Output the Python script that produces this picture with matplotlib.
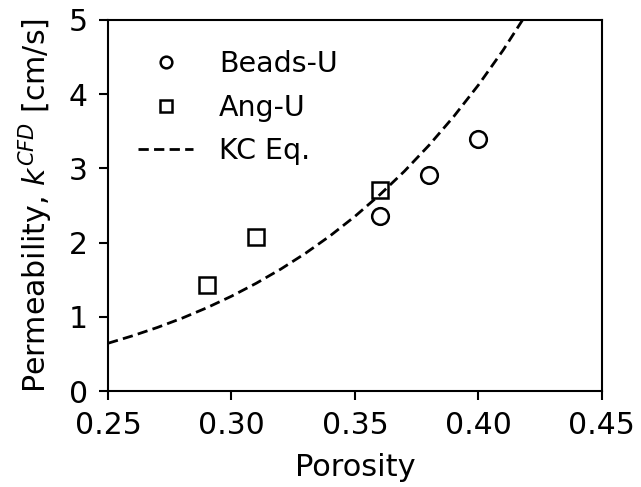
import matplotlib
matplotlib.use('Agg')
import matplotlib.pyplot as plt

# measured points
beads_por = [0.36, 0.38, 0.40]
beads_k = [2.36, 2.91, 3.40]
ang_por = [0.29, 0.31, 0.36]
ang_k = [1.43, 2.08, 2.71]

# KC equation curve
kc_por = [0.25, 0.26, 0.27, 0.28, 0.29, 0.30, 0.31, 0.32, 0.33,
          0.34, 0.35, 0.36, 0.37, 0.38, 0.39, 0.40, 0.41, 0.42]
kc_k = [0.644, 0.745, 0.857, 0.982, 1.122, 1.278, 1.452, 1.644, 1.857,
        2.093, 2.354, 2.643, 2.961, 3.312, 3.699, 4.124, 4.593, 5.110]

fig = plt.figure(figsize=(6.41, 4.87), dpi=100)
ax = fig.add_axes([0.1685, 0.197, 0.7705, 0.762])

ax.plot(beads_por, beads_k, 'o', mfc='none', mec='k', ms=12, mew=1.8,
        label='Beads-U')
ax.plot(ang_por, ang_k, 's', mfc='none', mec='k', ms=12, mew=1.8,
        label='Ang-U')
ax.plot(kc_por, kc_k, '--', color='k', lw=2.0, dashes=(3.7, 1.9),
        label='KC Eq.')

ax.set_xlim(0.25, 0.45)
ax.set_ylim(0, 5)
ax.set_xticks([0.25, 0.30, 0.35, 0.40, 0.45])
ax.set_xticklabels(['0.25', '0.30', '0.35', '0.40', '0.45'])
ax.set_yticks([0, 1, 2, 3, 4, 5])

ax.set_xlabel('Porosity', fontsize=22, labelpad=9)
ax.set_ylabel('Permeability, $k^{CFD}$ [cm/s]', fontsize=21.6, labelpad=10)
ax.tick_params(labelsize=21.5, length=6.5, width=1.5, pad=8)
for s in ax.spines.values():
    s.set_linewidth(1.5)

ax.legend(loc='upper left', frameon=False, fontsize=20.5,
          handlelength=1.95, handletextpad=0.9, labelspacing=0.55,
          borderaxespad=0.65, markerscale=0.7)

fig.savefig('out.png', dpi=100)
